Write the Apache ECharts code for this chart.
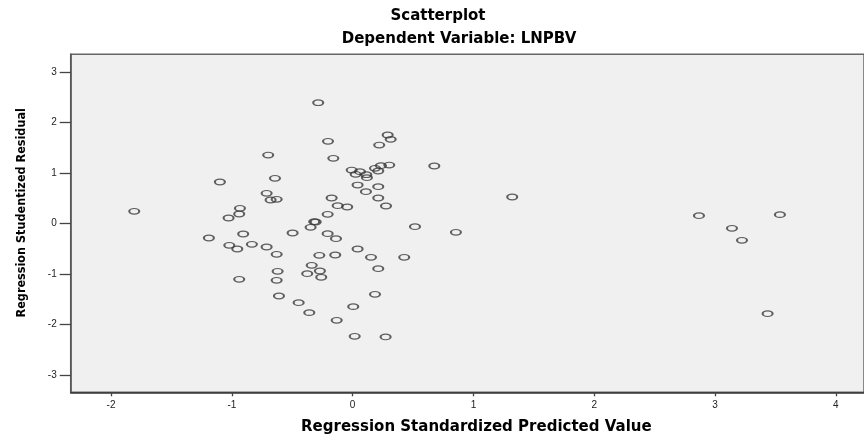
<!DOCTYPE html>
<html>
<head>
<meta charset="utf-8">
<style>
  html, body { margin: 0; padding: 0; background: #ffffff; }
  #chart { width: 864px; height: 436px; }
</style>
<script src="https://cdn.jsdelivr.net/npm/echarts@6/dist/echarts.min.js"></script>
</head>
<body>
<div id="chart"></div>
<script>
// Regression Standardized Predicted Value (x) and Studentized Residual (y)
const predictedValues = [
  -0.285, 0.290, 0.315, 0.220, -0.204, -0.699, -0.160, 0.303, 0.234, 0.676,
  -0.008, 0.060, 0.025, 0.185, 0.212, 0.113, 0.118, -1.099, -0.643, 0.041,
  0.212, 0.110, 0.212, 0.276, -0.712, -0.679, -0.629, -0.174, -0.124, -0.045,
  -0.207, -0.933, -0.939, -1.027, -1.808, -0.318, -0.306, -0.348, -0.497, 0.516,
  0.855, -1.190, -0.906, -1.021, -0.955, -0.834, -0.712, -0.629, -0.207, -0.138,
  -0.276, -0.144, 0.041, 0.152, 0.427, 0.212, -0.339, -0.271, -0.376, -0.260,
  -0.621, -0.629, -0.939, -0.610, 0.185, -0.447, 0.005, -0.359, -0.132, 0.017,
  0.273, 1.321, 2.867, 3.537, 3.140, 3.223, 3.435
];
const residuals = [
  2.388, 1.749, 1.663, 1.550, 1.624, 1.352, 1.287, 1.154, 1.141, 1.135,
  1.055, 1.022, 0.970, 1.089, 1.036, 0.962, 0.903, 0.818, 0.891, 0.758,
  0.725, 0.626, 0.501, 0.343, 0.594, 0.461, 0.475, 0.501, 0.349, 0.323,
  0.178, 0.297, 0.184, 0.105, 0.238, 0.032, 0.026, -0.079, -0.192, -0.067,
  -0.178, -0.291, -0.212, -0.436, -0.509, -0.416, -0.469, -0.614, -0.206, -0.305,
  -0.634, -0.628, -0.509, -0.673, -0.673, -0.899, -0.832, -0.945, -0.998, -1.069,
  -0.951, -1.129, -1.109, -1.440, -1.406, -1.572, -1.651, -1.770, -1.921, -2.238,
  -2.251, 0.521, 0.151, 0.171, -0.099, -0.337, -1.790
];
const xTicks = [-2, -1, 0, 1, 2, 3, 4];
const yTicks = [-3, -2, -1, 0, 1, 2, 3];
const titleText = 'Scatterplot';
const subtitleText = 'Dependent Variable: LNPBV';
const xAxisName = 'Regression Standardized Predicted Value';
const yAxisName = 'Regression Studentized Residual';

const points = predictedValues.map((x, i) => [x, residuals[i]]);

const chart = echarts.init(document.getElementById('chart'), null, { renderer: 'canvas' });
const titleFont = { fontFamily: 'DejaVu Sans', fontWeight: 'bold', fontSize: 15, color: '#000' };

chart.setOption({
  animation: false,
  backgroundColor: '#ffffff',
  title: [
    { text: titleText, left: 433, top: 4, textAlign: 'center', textStyle: titleFont },
    { text: subtitleText, left: 454, top: 27, textAlign: 'center', textStyle: titleFont }
  ],
  grid: {
    left: 70.7, top: 54.3, right: 0, bottom: 43.7,
    show: true, backgroundColor: '#f0f0f0', borderColor: '#666', borderWidth: 1.5,
    containLabel: false, outerBoundsMode: 'none'
  },
  xAxis: {
    type: 'value', min: -2.334, max: 4.233,
    name: xAxisName, nameLocation: 'middle', nameGap: 27,
    nameTextStyle: { fontFamily: 'DejaVu Sans', fontWeight: 'bold', fontSize: 15, color: '#000', padding: [0, 0, 0, 18] },
    axisLine: { show: true, onZero: false, lineStyle: { color: '#333', width: 1.5 } },
    axisTick: { show: true, customValues: xTicks, length: 4, lineStyle: { color: '#444', width: 1.3 } },
    axisLabel: { customValues: xTicks, margin: 8, fontFamily: 'Liberation Sans', fontSize: 10, color: '#222' },
    splitLine: { show: false }
  },
  yAxis: {
    type: 'value', min: -3.347, max: 3.347,
    name: yAxisName, nameLocation: 'middle', nameGap: 42,
    nameTextStyle: { fontFamily: '"DejaVu Sans Condensed", "Liberation Sans"', fontWeight: 'bold', fontSize: 12.5, color: '#000', padding: [0, 0, 0, 21] },
    axisLine: { show: true, onZero: false, lineStyle: { color: '#555', width: 1.5 } },
    axisTick: { show: true, customValues: yTicks, length: 11, lineStyle: { color: '#444', width: 1.3 } },
    axisLabel: { customValues: yTicks, margin: 14, fontFamily: 'Liberation Sans', fontSize: 10, color: '#222' },
    splitLine: { show: false }
  },
  series: [{
    type: 'scatter',
    data: points,
    symbol: 'path://M0,50 A50,50 0 1,1 100,50 A50,50 0 1,1 0,50 Z',
    symbolSize: [10, 5.6],
    itemStyle: { color: 'rgba(0,0,0,0)', borderColor: '#3a3a3a', borderWidth: 1.6 },
    emphasis: { disabled: true },
    silent: true
  }]
});
</script>
</body>
</html>
